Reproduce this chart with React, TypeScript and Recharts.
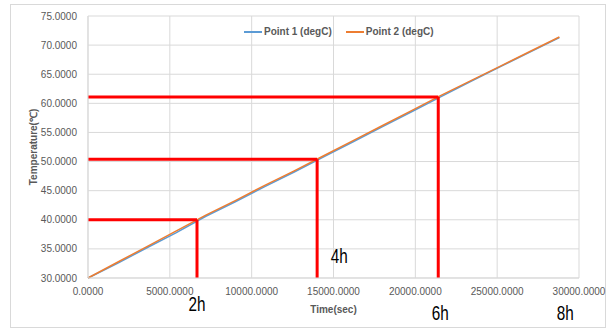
import React from "react";
import {
  LineChart,
  Line,
  XAxis,
  YAxis,
  CartesianGrid,
  Legend,
  ReferenceLine,
  ReferenceDot,
} from "recharts";

// time in seconds
const times = [
  0, 1800, 3600, 5400, 7200, 9000, 10800, 12600, 14400, 16200, 18000, 19800,
  21600, 23400, 25200, 27000, 28800,
];
const point1 = [
  30.0, 32.5, 35.2, 37.8, 40.6, 43.1, 45.7, 48.2, 50.8, 53.4, 56.0, 58.6, 61.2,
  63.8, 66.3, 68.8, 71.3,
];
const point2 = [
  30.0, 32.7, 35.4, 38.1, 40.8, 43.3, 45.9, 48.4, 51.0, 53.6, 56.2, 58.8, 61.4,
  63.9, 66.4, 68.9, 71.4,
];

const xTicks = [0, 5000, 10000, 15000, 20000, 25000, 30000];
const yTicks = [30, 35, 40, 45, 50, 55, 60, 65, 70, 75];

// red marker lines (time, temperature)
const markTimes = [6660, 14000, 21400];
const markTemps = [40, 50.4, 61.1];

// hour annotations
const hourLabels = ["2h", "4h", "6h", "8h"];
const hourTimes = [6660, 14000, 21400, 28800];
const hourDx = [0, 22, 2, 6];
const hourDy = [33, -15, 42, 42];

const data = times.map((t, i) => ({ t, p1: point1[i], p2: point2[i] }));

const tickStyle = { fontSize: 10, fill: "#595959", fontFamily: "Liberation Sans" };
const titleStyle = {
  fontSize: 10,
  fill: "#595959",
  fontWeight: "bold",
  fontFamily: "Liberation Sans",
};

const legendContent = () => (
  <div
    style={{
      display: "flex",
      fontFamily: "Liberation Sans",
      fontSize: 10,
      fontWeight: "bold",
      color: "#595959",
    }}
  >
    <span style={{ display: "flex", alignItems: "center", marginRight: 14 }}>
      <span
        style={{ width: 18, height: 2, background: "#5B9BD5", marginRight: 2 }}
      />
      Point 1 (degC)
    </span>
    <span style={{ display: "flex", alignItems: "center" }}>
      <span
        style={{ width: 18, height: 2, background: "#ED7D31", marginRight: 2 }}
      />
      Point 2 (degC)
    </span>
  </div>
);

const hourLabel = (i: number) => (props: any) => {
  const vb = props.viewBox || {};
  return (
    <text
      x={vb.x + hourDx[i]}
      y={vb.y + hourDy[i]}
      textAnchor="middle"
      fontSize={20}
      textLength={17}
      lengthAdjust="spacingAndGlyphs"
      fontFamily="Liberation Sans"
      fill="#000"
    >
      {hourLabels[i]}
    </text>
  );
};

export default function App() {
  return (
    <div style={{ position: "absolute", left: 0, top: 0, width: 615, height: 330, background: "#fff" }}>
      <div
        style={{
          position: "absolute",
          left: 10,
          top: 4,
          width: 594,
          height: 322,
          border: "1px solid #d9d9d9",
        }}
      />
      <div style={{ position: "absolute", left: 0, top: 0 }}>
        <LineChart
          width={615}
          height={330}
          data={data}
          margin={{ top: 16, right: 36, bottom: 0, left: 0 }}
        >
          <CartesianGrid stroke="#d9d9d9" strokeWidth={1} />
          <XAxis
            dataKey="t"
            type="number"
            domain={[0, 30000]}
            ticks={xTicks}
            tickFormatter={(v) => v.toFixed(4)}
            tick={tickStyle}
            tickLine={false}
            axisLine={{ stroke: "#d9d9d9" }}
            tickMargin={4}
            height={52}
            interval={0}
            label={{ value: "Time(sec)", position: "insideBottom", offset: 17, style: titleStyle }}
          />
          <YAxis
            type="number"
            domain={[30, 75]}
            ticks={yTicks}
            tickFormatter={(v) => v.toFixed(4)}
            tick={tickStyle}
            tickLine={false}
            axisLine={{ stroke: "#d9d9d9" }}
            tickMargin={5}
            width={88}
            interval={0}
            label={{
              value: "Temperature(℃)",
              angle: -90,
              position: "insideLeft",
              offset: 33,
              style: { ...titleStyle, textAnchor: "middle" },
            }}
          />
          <Legend
            content={legendContent}
            layout="horizontal"
            verticalAlign="middle"
            align="center"
            wrapperStyle={{ top: 26, left: 244, width: "auto" }}
          />
          <Line
            dataKey="p1"
            stroke="#5B9BD5"
            strokeWidth={1.5}
            dot={false}
            isAnimationActive={false}
          />
          <Line
            dataKey="p2"
            stroke="#ED7D31"
            strokeWidth={1.5}
            dot={false}
            isAnimationActive={false}
          />
          {markTimes.map((t, i) => (
            <ReferenceLine
              key={"h" + i}
              segment={[
                { x: 0, y: markTemps[i] },
                { x: t, y: markTemps[i] },
              ]}
              stroke="#FF0000"
              strokeWidth={3}
            />
          ))}
          {markTimes.map((t, i) => (
            <ReferenceLine
              key={"v" + i}
              segment={[
                { x: t, y: 30 },
                { x: t, y: markTemps[i] },
              ]}
              stroke="#FF0000"
              strokeWidth={3}
            />
          ))}
          {hourTimes.map((t, i) => (
            <ReferenceDot
              key={"l" + i}
              x={t}
              y={30}
              r={0}
              ifOverflow="visible"
              fill="none"
              stroke="none"
              label={hourLabel(i)}
            />
          ))}
        </LineChart>
      </div>
    </div>
  );
}
